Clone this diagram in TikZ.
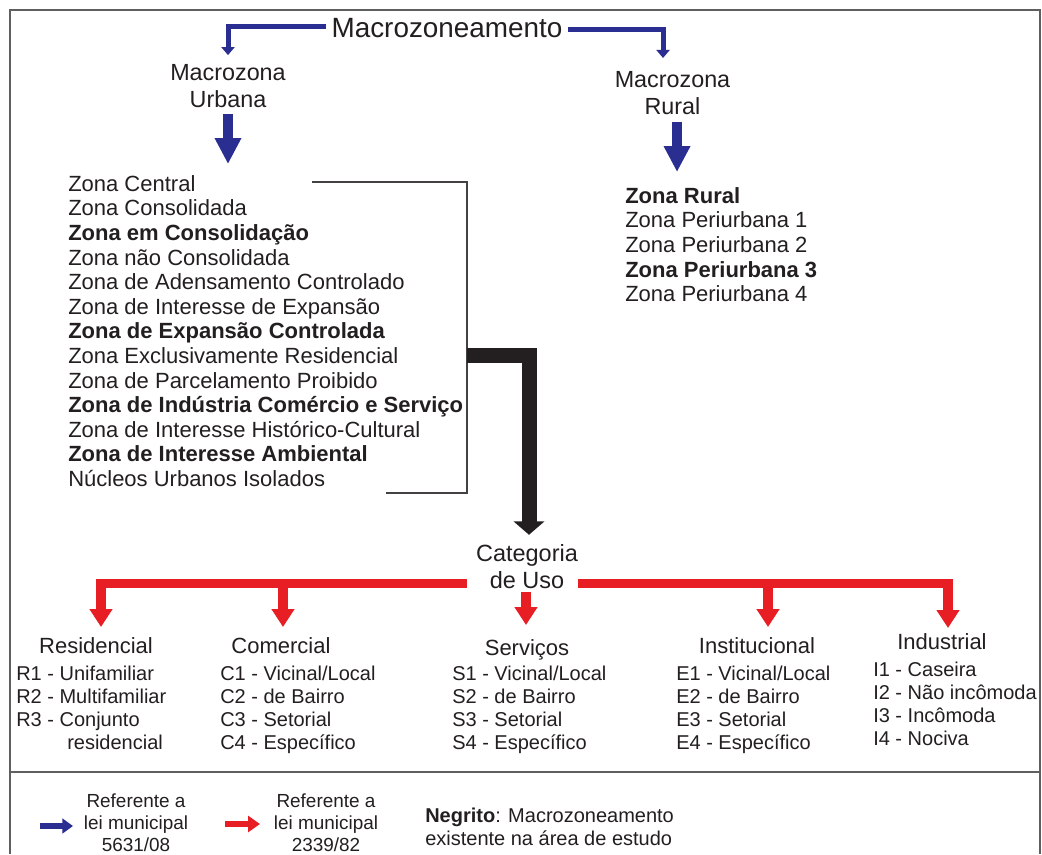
\documentclass[tikz,border=0pt]{standalone}
\usepackage{fontspec}
\setmainfont{Liberation Sans}
\usetikzlibrary{arrows.meta}
\definecolor{mblue}{RGB}{43,46,145}
\definecolor{mred}{RGB}{232,30,37}
\definecolor{mtext}{RGB}{35,31,32}
\definecolor{mframe}{RGB}{95,95,95}
\begin{document}
\begin{tikzpicture}[x=0.75pt,y=-0.75pt,
  txt/.style={inner sep=0pt, text=mtext},
  big/.style={font=\fontsize{20.9}{24}\selectfont},
  mid/.style={font=\fontsize{17.5}{20.25}\selectfont, align=center},
  zone/.style={font=\fontsize{16.5}{18.45}\selectfont, align=left},
  head/.style={font=\fontsize{16.5}{19}\selectfont},
  item/.style={font=\fontsize{15}{17.2}\selectfont, align=left},
  leg/.style={font=\fontsize{14.2}{16.6}\selectfont, align=center},
  bluethin/.style={draw=mblue, line width=3.75pt, -{Triangle[width=9.75pt,length=6pt]}},
  bluebig/.style={draw=mblue, line width=7.5pt, -{Triangle[width=18.75pt,length=19.5pt]}},
  blackbig/.style={draw=mtext, line width=11.25pt, -{Triangle[width=22.5pt,length=10pt]}},
  redarr/.style={draw=mred, line width=7.2pt, -{Triangle[width=16.5pt,length=13.5pt]}},
  bracket/.style={draw=mtext!85, line width=0.8pt},
  frame/.style={draw=mframe, line width=1.1pt}
]
\useasboundingbox (0,0) rectangle (1042,854);
\fill[white] (0,0) rectangle (1042,854);
% frame
\draw[frame] (10,854) -- (10,10) -- (1040,10) -- (1040,854);
\draw[frame] (10,772) -- (1040,772);

% top
\node[txt,big] (macro) at (447,28.5) {Macrozoneamento};
\node[txt,mid] (urb) at (228,86) {Macrozona\\Urbana};
\node[txt,mid] (rur) at (672.5,92.7) {Macrozona\\Rural};

\draw[bluethin, shorten <=4pt, shorten >=6.75pt] ([yshift=1.5pt]macro.west) -| (urb.north);
\draw[bluethin, shorten <=4pt, shorten >=9.6pt] ([yshift=-0.5pt]macro.east) -| ([xshift=-7.1pt]rur.north);

% zone lists
\node[txt,zone,anchor=north west] (zl) at (68,175) {Zona Central\\Zona Consolidada\\\textbf{Zona em Consolidação}\\Zona não Consolidada\\Zona de Adensamento Controlado\\Zona de Interesse de Expansão\\\textbf{Zona de Expansão Controlada}\\Zona Exclusivamente Residencial\\Zona de Parcelamento Proibido\\\textbf{Zona de Indústria Comércio e Serviço}\\Zona de Interesse Histórico-Cultural\\\textbf{Zona de Interesse Ambiental}\\Núcleos Urbanos Isolados};
\node[txt,zone,anchor=north west] (rl) at (625,187) {\textbf{Zona Rural}\\Zona Periurbana 1\\Zona Periurbana 2\\\textbf{Zona Periurbana 3}\\Zona Periurbana 4};

\draw[bluebig, shorten <=4.9pt, shorten >=8.25pt] (urb.south) -- (urb.south |- zl.north);
\draw[bluebig, shorten <=5.6pt, shorten >=11.25pt] ([xshift=3.4pt]rur.south) -- ([xshift=3.4pt]rur.south |- rl.north);

% bracket
\draw[bracket] (312,182) -- (467,182) -- (467,493) -- (386,493);
\coordinate (brk) at (467,355);

% categoria
\node[txt,font=\fontsize{17.6}{20.25}\selectfont,align=center] (cat) at (527,566.5) {Categoria\\de Uso};
\draw[blackbig, shorten >=7pt] (brk) -| ([xshift=1.5pt]cat.north);

% headings
\node[txt,head,anchor=north] (res) at (96,637) {Residencial};
\node[txt,head,anchor=north] (com) at (281,637) {Comercial};
\node[txt,head,anchor=north] (ser) at (527,639) {Serviços};
\node[txt,head,anchor=north] (ins) at (757,637) {Institucional};
\node[txt,head,anchor=north] (ind) at (942,633) {Industrial};

\draw[redarr, shorten >=7.5pt] ([shift={(-9,-5.4)}]cat.south west) -| ([xshift=3.75pt]res.north);
\draw[redarr, shorten >=7.5pt] ([shift={(-9,-5.4)}]cat.south west) -| ([xshift=1.5pt]com.north);
\draw[redarr, shorten >=7.5pt] ([shift={(0,-5.4)}]cat.south east) -| ([xshift=8.25pt]ins.north);
\draw[redarr, shorten >=3.75pt] ([shift={(0,-5.4)}]cat.south east) -| ([xshift=4.5pt]ind.north);
\draw[redarr, shorten <=2.7pt, shorten >=10.5pt] ([xshift=-0.75pt]cat.south) -- ([xshift=-0.75pt]cat.south |- ser.north);

% item lists
\node[txt,item,anchor=north west] (rli) at (16,665.8) {R1 - Unifamiliar\\R2 - Multifamiliar\\R3 - Conjunto\\\hspace*{38.25pt}residencial};
\node[txt,item,anchor=north west] (cli) at (220,665.8) {C1 - Vicinal/Local\\C2 - de Bairro\\C3 - Setorial\\C4 - Específico};
\node[txt,item,anchor=north west] (sli) at (452,665.8) {S1 - Vicinal/Local\\S2 - de Bairro\\S3 - Setorial\\S4 - Específico};
\node[txt,item,anchor=north west] (eli) at (676,665.8) {E1 - Vicinal/Local\\E2 - de Bairro\\E3 - Setorial\\E4 - Específico};
\node[txt,item,anchor=north west] (ili) at (873,661.8) {I1 - Caseira\\I2 - Não incômoda\\I3 - Incômoda\\I4 - Nociva};

% legend
\draw[draw=mblue, line width=4.5pt, -{Triangle[width=11pt,length=8pt]}] (40,826) -- (73,826);
\node[txt,leg] (leg1) at (136,823) {Referente a\\lei municipal\\5631/08};
\draw[draw=mred, line width=5pt, -{Triangle[width=12pt,length=9pt]}] (225,824) -- (260,824);
\node[txt,leg] (leg2) at (326,823) {Referente a\\lei municipal\\2339/82};
\node[txt,item,anchor=north west] (neg) at (425,807.8) {\textbf{Negrito}: Macrozoneamento\\existente na área de estudo};
\end{tikzpicture}
\end{document}
